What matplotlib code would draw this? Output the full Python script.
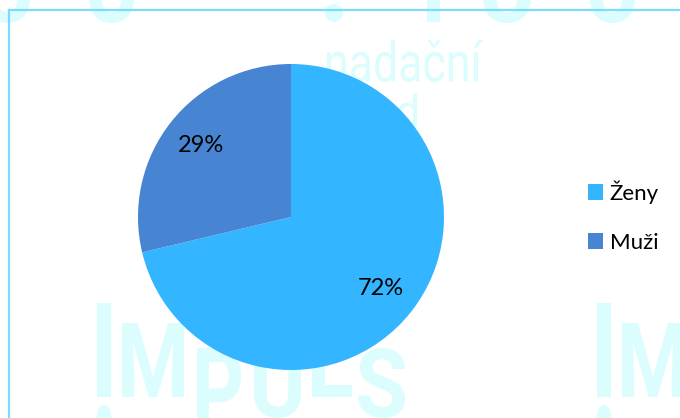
import matplotlib
matplotlib.use("Agg")
import matplotlib.pyplot as plt
from matplotlib.font_manager import FontProperties
from matplotlib.lines import Line2D
from matplotlib.patches import PathPatch, Patch
from matplotlib.textpath import TextPath
from matplotlib.transforms import Affine2D

# survey split by gender
categories = ["Ženy", "Muži"]
shares = [72, 29]
colors = ["#33b6ff", "#4785d3"]

W, H = 680, 418
WM_COLOR = "#dcfdfd"
BORDER_COLOR = "#7cdcff"

fig = plt.figure(figsize=(W / 100, H / 100), dpi=100)
fig.patch.set_facecolor("white")


def stamp(text, x0, x1, ytop, ybot, weight="bold"):
    """Draw a watermark glyph string stretched into a pixel box (y measured from top)."""
    tp = TextPath((0, 0), text, size=100,
                  prop=FontProperties(family="Roboto", weight=weight))
    bb = tp.get_extents()
    sx = (x1 - x0) / bb.width / W
    sy = (ybot - ytop) / bb.height / H
    tr = (Affine2D().translate(-bb.x0, -bb.y0).scale(sx, sy)
          .translate(x0 / W, 1 - ybot / H) + fig.transFigure)
    fig.add_artist(PathPatch(tp, fc=WM_COLOR, ec="none", transform=tr, zorder=-2))


# background logo watermark
for ch, x0, x1, yt, yb in [("o", -15, 30, -28, 23), ("o", 89, 134, -28, 23),
                           (".", 325, 343, 4, 22), ("l", 427, 440, -50, 22),
                           ("o", 483, 531, -28, 23), ("o", 590, 635, -28, 23)]:
    stamp(ch, x0, x1, yt, yb)
stamp("nadační", 327, 483, 40, 82, weight="normal")
stamp("fond", 332, 417, 93, 127, weight="normal")
for ch, x0, x1, yt, yb in [("l", 97, 111, 303, 397), (".", 96, 112, 405, 440),
                           ("M", 122, 184, 323, 397),
                           ("P", 197, 241, 348, 432), ("U", 254, 301, 348, 418),
                           ("L", 312, 352, 323, 397), ("S", 358, 405, 348, 418),
                           ("l", 597, 611, 303, 397), (".", 596, 612, 405, 440),
                           ("M", 622, 684, 323, 397)]:
    stamp(ch, x0, x1, yt, yb)

# frame lines along the left and top edge
fig.add_artist(Line2D([9 / W, 9 / W], [0, 1 - 10 / H], color=BORDER_COLOR,
                      lw=1.6, transform=fig.transFigure, zorder=-1))
fig.add_artist(Line2D([9 / W, 1], [1 - 10 / H, 1 - 10 / H], color=BORDER_COLOR,
                      lw=1.6, transform=fig.transFigure, zorder=-1))

# pie: centre (291, 217) px, radius 153 px
cx, cy, r = 291, 217, 153
ax = fig.add_axes([(cx - r) / W, 1 - (cy + r) / H, 2 * r / W, 2 * r / H])
ax.set_facecolor("none")
total = sum(shares)
wedges, _, autotexts = ax.pie(
    shares, colors=colors, startangle=90, counterclock=False,
    autopct=lambda p: f"{round(p * total / 100)}%", pctdistance=0.75,
    textprops=dict(fontsize=17, family="Lato", color="black"),
    wedgeprops=dict(linewidth=0),
)
ax.set_xlim(-1, 1)
ax.set_ylim(-1, 1)
ax.set_aspect("equal")
ax.axis("off")

handles = [Patch(facecolor=c, edgecolor="none") for c in colors]
fig.legend(handles, categories, loc="center left",
           bbox_to_anchor=(588 / W, 1 - 216.5 / H), frameon=False,
           prop=dict(family="Lato", size=16), handlelength=0.68,
           handleheight=0.68, handletextpad=0.3, labelspacing=1.3,
           borderpad=0, borderaxespad=0)

fig.savefig("out.png", dpi=100)
